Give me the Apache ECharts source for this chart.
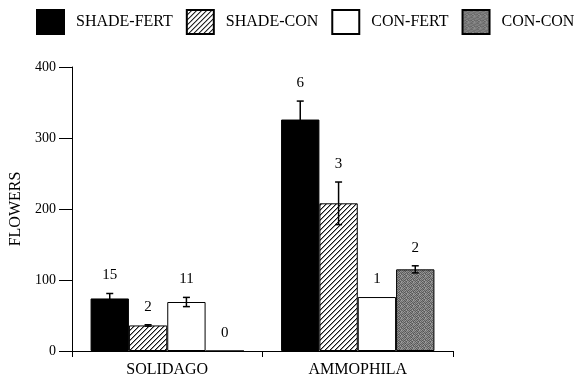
<!DOCTYPE html>
<html>
<head>
<meta charset="utf-8">
<script src="https://cdn.jsdelivr.net/npm/echarts@6/dist/echarts.min.js"></script>
<style>html,body{margin:0;padding:0;background:#fff}#c{width:580px;height:378px}</style>
</head>
<body>
<div id="c"></div>
<script>
// ---- data ----
const categories = ['SOLIDAGO', 'AMMOPHILA'];
const seriesNames = ['SHADE-FERT', 'SHADE-CON', 'CON-FERT', 'CON-CON'];
const shadeFert = [74, 326];
const shadeFertErr = [7, 26];
const shadeFertN = [15, 6];
const shadeCon = [36, 208];
const shadeConErr = [1, 30];
const shadeConN = [2, 3];
const conFert = [69, 76];
const conFertErr = [6.5, 0];
const conFertN = [11, 1];
const conCon = [0, 115];
const conConErr = [0, 5];
const conConN = [0, 2];
const yTicks = [0, 100, 200, 300, 400];

const values = [shadeFert, shadeCon, conFert, conCon];
const errs = [shadeFertErr, shadeConErr, conFertErr, conConErr];
const ns = [shadeFertN, shadeConN, conFertN, conConN];

// ---- patterns ----
function hatchPattern() {
  const N = 5;
  const c = document.createElement('canvas');
  c.width = N; c.height = N;
  const ctx = c.getContext('2d');
  const img = ctx.createImageData(N, N);
  for (let y = 0; y < N; y++) for (let x = 0; x < N; x++) {
    const i = (y * N + x) * 4;
    const d = (x + y) % N;
    let v = 255;
    if (d === N - 1) v = 20; else if (d === 0) v = 150;
    img.data[i] = img.data[i + 1] = img.data[i + 2] = v; img.data[i + 3] = 255;
  }
  ctx.putImageData(img, 0, 0);
  return c;
}
function greyPattern() {
  const g = [
    [0x70,0x98,0x5a,0x88,0x66,0xa0],
    [0x90,0x60,0x80,0x50,0x94,0x74],
    [0x58,0x8c,0x6c,0x9c,0x62,0x84],
    [0x9a,0x68,0x96,0x5e,0x86,0x54],
    [0x64,0x82,0x56,0x7a,0xa2,0x6e],
    [0x8e,0x5c,0x9e,0x6a,0x58,0x92]
  ];
  const c = document.createElement('canvas');
  c.width = 6; c.height = 6;
  const ctx = c.getContext('2d');
  const img = ctx.createImageData(6, 6);
  for (let y = 0; y < 6; y++) for (let x = 0; x < 6; x++) {
    const i = (y * 6 + x) * 4;
    const v = g[y][x];
    img.data[i] = img.data[i + 1] = img.data[i + 2] = v; img.data[i + 3] = 255;
  }
  ctx.putImageData(img, 0, 0);
  return c;
}

const fills = [
  '#000000',
  { image: hatchPattern(), repeat: 'repeat' },
  '#ffffff',
  { image: greyPattern(), repeat: 'repeat' }
];

const FONT = "'Liberation Serif', 'DejaVu Serif', serif";
const GAP = 0.195;

const barSeries = seriesNames.map((name, s) => ({
  name: name,
  type: 'bar',
  data: values[s],
  barGap: '0%',
  barCategoryGap: (GAP * 100) + '%',
  itemStyle: { color: fills[s], borderColor: '#000', borderWidth: 1 },
  emphasis: { disabled: true },
  z: 2
}));

const errData = [];
for (let s = 0; s < 4; s++) {
  for (let c = 0; c < categories.length; c++) {
    errData.push([c, values[s][c], errs[s][c], ns[s][c], s]);
  }
}

const errSeries = {
  type: 'custom',
  data: errData,
  encode: { x: 0, y: 1 },
  z: 5,
  silent: true,
  renderItem: function (params, api) {
    const c = api.value(0), v = api.value(1), e = api.value(2), n = api.value(3), s = api.value(4);
    const band = api.size([1, 0])[0];
    const bw = band * (1 - GAP) / 4;
    const cx = api.coord([c, 0])[0] + (s - 1.5) * bw;
    const yTop = api.coord([c, v + e])[1];
    const yBot = api.coord([c, v - e])[1];
    const children = [];
    if (e > 0) {
      const cap = 3.5;
      const ls = { stroke: '#000', lineWidth: 1.5 };
      children.push({ type: 'line', shape: { x1: cx, y1: yTop, x2: cx, y2: yBot }, style: ls });
      children.push({ type: 'line', shape: { x1: cx - cap, y1: yTop, x2: cx + cap, y2: yTop }, style: ls });
      children.push({ type: 'line', shape: { x1: cx - cap, y1: yBot, x2: cx + cap, y2: yBot }, style: ls });
    }
    children.push({
      type: 'text',
      style: {
        text: String(n), x: cx, y: yTop - 18,
        align: 'center', verticalAlign: 'middle',
        font: "15px " + FONT, fill: '#000'
      }
    });
    return { type: 'group', children: children };
  }
};

const chart = echarts.init(document.getElementById('c'), null, { renderer: 'canvas' });
chart.setOption({
  animation: false,
  backgroundColor: '#fff',
  textStyle: { fontFamily: FONT },
  legend: {
    data: seriesNames,
    left: 36, top: 9, width: 570, padding: 0,
    itemWidth: 27, itemHeight: 24, itemGap: 13,
    icon: 'rect',
    selectedMode: false,
    textStyle: { fontFamily: FONT, fontSize: 16, color: '#000', padding: [0, 0, 0, 7] }
  },
  grid: { left: 71, right: 127, top: 67, bottom: 26.5, containLabel: false },
  xAxis: {
    type: 'category',
    data: categories,
    axisLine: { lineStyle: { color: '#000', width: 1 } },
    axisTick: { show: true, length: 6, lineStyle: { color: '#000' } },
    axisLabel: { color: '#000', fontSize: 16, fontFamily: FONT, margin: 11 }
  },
  yAxis: {
    type: 'value',
    min: yTicks[0], max: yTicks[yTicks.length - 1], interval: 100,
    name: 'FLOWERS',
    nameLocation: 'middle',
    nameGap: 48,
    nameTextStyle: { color: '#000', fontSize: 16, fontFamily: FONT },
    axisLine: { show: true, lineStyle: { color: '#000', width: 1 } },
    axisTick: { show: true, length: 13, lineStyle: { color: '#000' } },
    axisLabel: { color: '#000', fontSize: 14, fontFamily: FONT, margin: 16 },
    splitLine: { show: false }
  },
  series: barSeries.concat([errSeries])
});
</script>
</body>
</html>
